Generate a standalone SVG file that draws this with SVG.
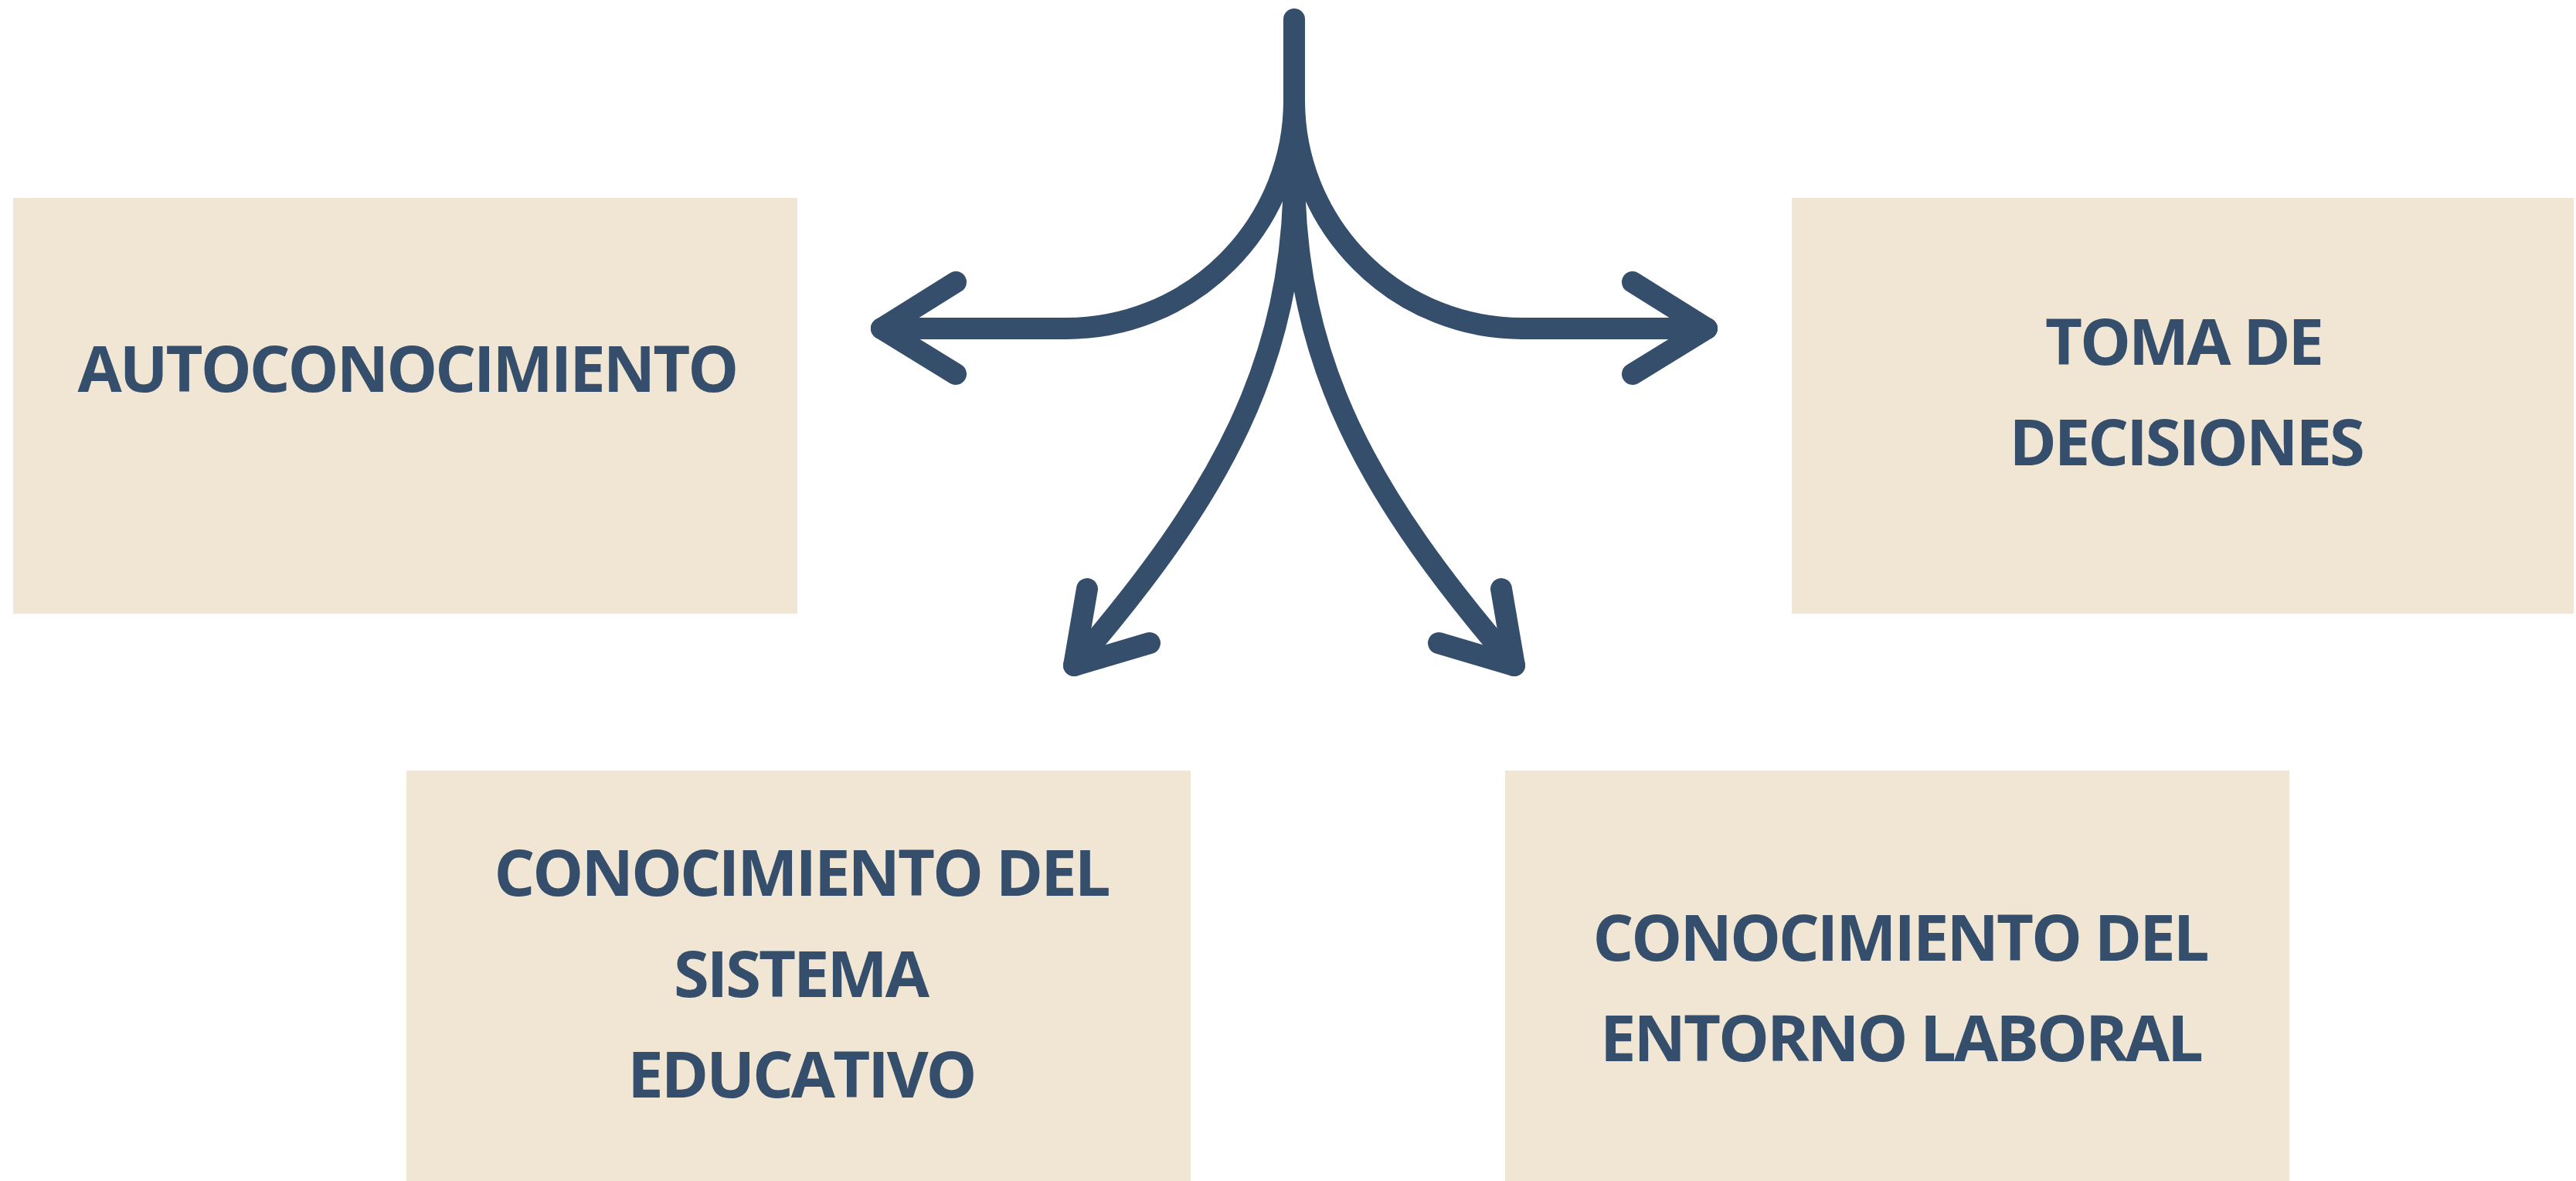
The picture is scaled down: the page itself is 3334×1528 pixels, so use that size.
<svg xmlns="http://www.w3.org/2000/svg" width="3334" height="1528" viewBox="0 0 3334 1528">
<style>
.box{fill:#F1E6D3}
.lbl{font-family:"Open Sans","Noto Sans","Liberation Sans",sans-serif;font-weight:700;font-size:83px;letter-spacing:-3px;fill:#344E6B;text-anchor:middle}
.arr{fill:none;stroke:#344E6B;stroke-width:28;stroke-linecap:round;stroke-linejoin:round}
</style>
<rect width="3334" height="1528" fill="#FFFFFF"/>
<g id="connectors">
<path class="arr" d="M1675,25 L1675,130 A295,295 0 0 1 1380,425 L1141,425"/>
<path class="arr" d="M1675,130 A295,295 0 0 0 1970,425 L2209,425"/>
<path class="arr" d="M1675,220 C1675,470 1580,640 1390,861"/>
<path class="arr" d="M1675,220 C1675,470 1770,640 1960,861"/>
<polyline class="arr" points="1237,365 1141,425 1237,484"/>
<polyline class="arr" points="2113,365 2209,425 2113,484"/>
<polyline class="arr" points="1407,762 1390,861 1488,832"/>
<polyline class="arr" points="1943,762 1960,861 1862,832"/>
</g>
<g id="node-autoconocimiento">
<rect class="box" x="17" y="256" width="1015" height="538"/>
<text class="lbl" x="527" y="507">AUTOCONOCIMIENTO</text>
</g>
<g id="node-toma-decisiones">
<rect class="box" x="2319" y="256" width="1012" height="538"/>
<text class="lbl" x="2826" y="472">TOMA DE</text>
<text class="lbl" x="2829" y="602">DECISIONES</text>
</g>
<g id="node-sistema-educativo">
<rect class="box" x="526" y="997" width="1015" height="531"/>
<text class="lbl" x="1037" y="1159">CONOCIMIENTO DEL</text>
<text class="lbl" x="1036" y="1290">SISTEMA</text>
<text class="lbl" x="1037" y="1420">EDUCATIVO</text>
</g>
<g id="node-entorno-laboral">
<rect class="box" x="1948" y="997" width="1015" height="531"/>
<text class="lbl" x="2459" y="1243">CONOCIMIENTO DEL</text>
<text class="lbl" x="2460" y="1373">ENTORNO LABORAL</text>
</g>
</svg>
